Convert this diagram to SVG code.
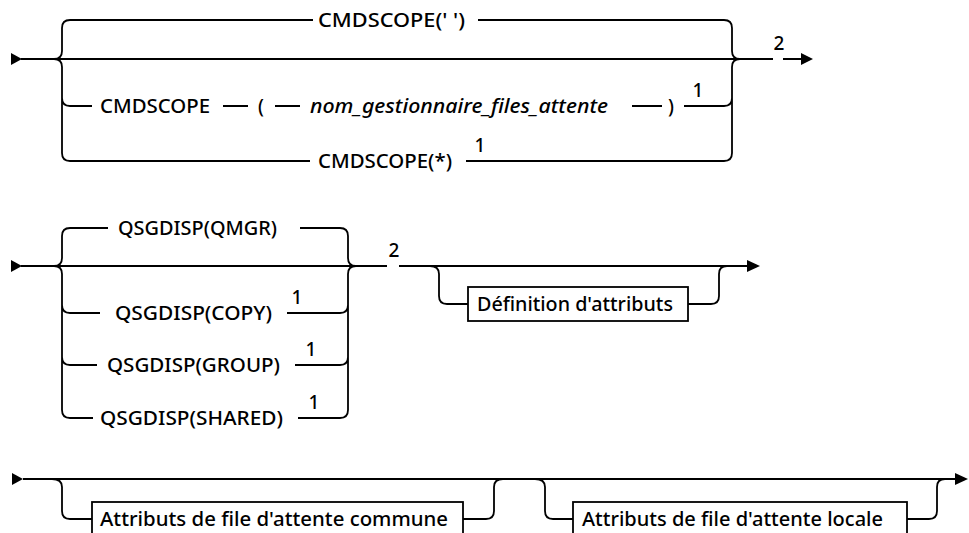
<svg xmlns="http://www.w3.org/2000/svg" width="969" height="533" viewBox="0 0 969 533">
<style>
.l{fill:none;stroke:#000;stroke-width:1.8}
.t{font-family:"Noto Sans","Liberation Sans",Arial,sans-serif;font-size:19px;font-weight:500;fill:#000}
.i{font-style:italic}
.s{font-family:"Noto Sans","Liberation Sans",Arial,sans-serif;font-size:19px;font-weight:500;fill:#000;text-anchor:middle}
.b{fill:#fff;stroke:#000;stroke-width:1.8}
.a{fill:#000}
</style>
<rect width="969" height="533" fill="#fff"/>
<g id="connectors">
<!-- Row 1 -->
<polygon class="a" points="11,53 22,59 11,65"/>
<path class="l" d="M21,59 H773 M783,59 H803"/>
<polygon class="a" points="801,53 813,59 801,65"/>
<path class="l" d="M54,59 Q62,59 62,51 V28 Q62,20 70,20 M54,59 Q62,59 62,67 V153 Q62,161 70,161 M62,98 Q62,106 70,106"/>
<path class="l" d="M70,20 H313 M478,20 H724"/>
<path class="l" d="M70,106 H92 M223,106 H248 M275,106 H300 M632,106 H662 M684,106 H724"/>
<path class="l" d="M70,161 H310 M466,161 H724"/>
<path class="l" d="M724,20 Q732,20 732,28 V51 Q732,59 740,59 M740,59 Q732,59 732,67 V153 Q732,161 724,161 M724,106 Q732,106 732,98"/>
<!-- Row 2 -->
<polygon class="a" points="11,260 22,266 11,272"/>
<path class="l" d="M21,266 H387 M399,266 H748"/>
<polygon class="a" points="747,260 760,266 747,272"/>
<path class="l" d="M54,266 Q62,266 62,258 V236 Q62,228 70,228 M54,266 Q62,266 62,274 V410 Q62,418 70,418 M62,305 Q62,313 70,313 M62,357 Q62,365 70,365"/>
<path class="l" d="M70,228 H108 M300,228 H340 M70,313 H100 M287,313 H340 M70,365 H97 M295,365 H340 M70,418 H93 M298,418 H340"/>
<path class="l" d="M340,228 Q348,228 348,236 V258 Q348,266 356,266 M356,266 Q348,266 348,274 V410 Q348,418 340,418 M340,313 Q348,313 348,305 M340,365 Q348,365 348,357"/>
<path class="l" d="M430,266 Q439,266 439,274 V296 Q439,304 447,304 H468 M688,304 H711 Q719,304 719,296 V274 Q719,266 727,266"/>
<!-- Row 3 -->
<polygon class="a" points="12,473 23,479 12,485"/>
<path class="l" d="M23,479 H956"/>
<polygon class="a" points="955,473 968,479 955,485"/>
<path class="l" d="M52,479 Q62,479 62,487 V511 Q62,519 70,519 H92 M463,519 H486 Q494,519 494,511 V487 Q494,479 503,479"/>
<path class="l" d="M535,479 Q545,479 545,487 V511 Q545,519 553,519 H573 M907,519 H929 Q937,519 937,511 V487 Q937,479 945,479"/>
</g>
<g id="cmdscope-blank"><text class="t" x="318" y="27" textLength="147" lengthAdjust="spacingAndGlyphs">CMDSCOPE(' ')</text></g>
<g id="cmdscope-qmgr">
<text class="t" x="100" y="113" textLength="110" lengthAdjust="spacingAndGlyphs">CMDSCOPE</text>
<text class="t" x="258" y="113">(</text>
<text class="t i" x="310" y="113" textLength="298" lengthAdjust="spacingAndGlyphs">nom_gestionnaire_files_attente</text>
<text class="t" x="668" y="113">)</text>
<text class="s" x="698" y="97">1</text>
</g>
<g id="cmdscope-star">
<text class="t" x="318" y="168" textLength="134" lengthAdjust="spacingAndGlyphs">CMDSCOPE(*)</text>
<text class="s" x="480" y="152">1</text>
</g>
<g id="note-2a"><text class="s" x="779" y="50">2</text></g>
<g id="qsgdisp-qmgr"><text class="t" x="118" y="235" textLength="159" lengthAdjust="spacingAndGlyphs">QSGDISP(QMGR)</text></g>
<g id="qsgdisp-copy">
<text class="t" x="115" y="320" textLength="157" lengthAdjust="spacingAndGlyphs">QSGDISP(COPY)</text>
<text class="s" x="297" y="304">1</text>
</g>
<g id="qsgdisp-group">
<text class="t" x="107" y="372" textLength="173" lengthAdjust="spacingAndGlyphs">QSGDISP(GROUP)</text>
<text class="s" x="311" y="356">1</text>
</g>
<g id="qsgdisp-shared">
<text class="t" x="100" y="425" textLength="183" lengthAdjust="spacingAndGlyphs">QSGDISP(SHARED)</text>
<text class="s" x="314" y="409">1</text>
</g>
<g id="note-2b"><text class="s" x="394" y="257">2</text></g>
<g id="definition-attributs">
<rect class="b" x="468" y="287" width="220" height="34"/>
<text class="t" x="477" y="311" textLength="196" lengthAdjust="spacingAndGlyphs">Définition d'attributs</text>
</g>
<g id="attributs-commune">
<rect class="b" x="92" y="502" width="371" height="34"/>
<text class="t" x="100" y="526" textLength="348" lengthAdjust="spacingAndGlyphs">Attributs de file d'attente commune</text>
</g>
<g id="attributs-locale">
<rect class="b" x="573" y="502" width="334" height="34"/>
<text class="t" x="582" y="526" textLength="301" lengthAdjust="spacingAndGlyphs">Attributs de file d'attente locale</text>
</g>
</svg>
